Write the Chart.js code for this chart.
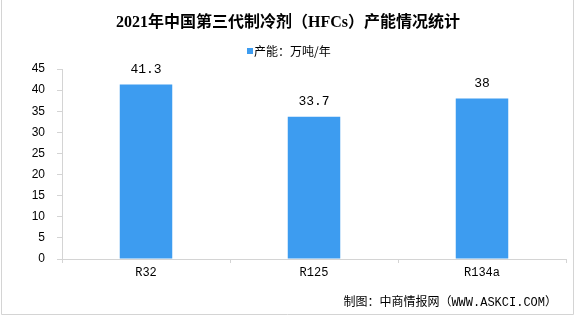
<!DOCTYPE html>
<html>
<head>
<meta charset="utf-8">
<script src="https://cdn.jsdelivr.net/npm/chart.js@4.4.0/dist/chart.umd.min.js"></script>
<style>
html,body{margin:0;padding:0;background:#fff;}
#wrap{width:576px;height:316px;position:relative;}
canvas{display:block;}
</style>
</head>
<body>
<div id="wrap"><canvas id="c" width="576" height="316"></canvas></div>
<script>
const categories = ["R32", "R125", "R134a"];
const capacity = [41.3, 33.7, 38];
const valueLabels = ["41.3", "33.7", "38"];
const yTicks = [0, 5, 10, 15, 20, 25, 30, 35, 40, 45];
const titleText = "2021年中国第三代制冷剂（HFCs）产能情况统计";
const seriesName = "产能：万吨/年";
const sourceText = "制图：中商情报网（WWW.ASKCI.COM）";

const BLUE = "#3d9cf0";
const CJK = '"Noto Sans CJK SC", sans-serif';

const decor = {
  id: "decor",
  beforeDraw(chart) {
    const ctx = chart.ctx;
    ctx.save();
    ctx.fillStyle = "#fff";
    ctx.fillRect(0, 0, chart.width, chart.height);
    ctx.restore();
  },
  afterDraw(chart) {
    const ctx = chart.ctx;
    ctx.save();
    // frame
    ctx.strokeStyle = "#d4d4d4";
    ctx.lineWidth = 1;
    ctx.beginPath();
    ctx.moveTo(1.5, 0); ctx.lineTo(1.5, 314.5); ctx.lineTo(573.5, 314.5); ctx.lineTo(573.5, 0);
    ctx.stroke();
    // title
    ctx.fillStyle = "#000";
    ctx.textAlign = "center";
    ctx.textBaseline = "middle";
    ctx.font = 'bold 16px "Liberation Serif", ' + CJK;
    ctx.fillText(titleText, 288, 23);
    // legend
    ctx.fillStyle = BLUE;
    ctx.fillRect(247, 48, 6, 6);
    ctx.fillStyle = "#000";
    ctx.textAlign = "left";
    ctx.font = '12px ' + CJK;
    ctx.fillText(seriesName, 254, 51.5);
    // source
    ctx.textAlign = "right";
    ctx.font = '12px "Liberation Mono", ' + CJK;
    ctx.fillText(sourceText, 557, 303);
    // value labels
    const meta = chart.getDatasetMeta(0);
    ctx.textAlign = "center";
    ctx.font = '13px "Liberation Mono", monospace';
    meta.data.forEach((bar, i) => {
      ctx.fillText(valueLabels[i], bar.x, bar.y - 15);
    });
    ctx.restore();
  }
};

new Chart(document.getElementById("c"), {
  type: "bar",
  data: {
    labels: categories,
    datasets: [{
      label: seriesName,
      data: capacity,
      backgroundColor: BLUE,
      borderWidth: 0,
      categoryPercentage: 1.0,
      barPercentage: 0.3125
    }]
  },
  options: {
    responsive: false,
    animation: false,
    devicePixelRatio: 1,
    layout: { padding: { left: 0, right: 10, top: 69, bottom: 0 } },
    plugins: { legend: { display: false }, title: { display: false }, tooltip: { enabled: false } },
    scales: {
      x: {
        grid: { drawOnChartArea: false, tickLength: 4, color: "#d4d4d4", offset: true },
        border: { color: "#d4d4d4" },
        ticks: { color: "#000", padding: 3, font: { family: '"Liberation Mono", monospace', size: 12 } },
        afterFit(s) { s.height = 57; }
      },
      y: {
        min: 0, max: 45,
        afterBuildTicks(s) { s.ticks = yTicks.map(v => ({ value: v })); },
        grid: { drawOnChartArea: false, tickLength: 5, color: "#d4d4d4" },
        border: { color: "#d4d4d4" },
        ticks: { color: "#000", padding: 12, font: { family: '"Liberation Sans", Arial, sans-serif', size: 12 } },
        afterFit(s) { s.width = 62; }
      }
    }
  },
  plugins: [decor]
});
</script>
</body>
</html>
